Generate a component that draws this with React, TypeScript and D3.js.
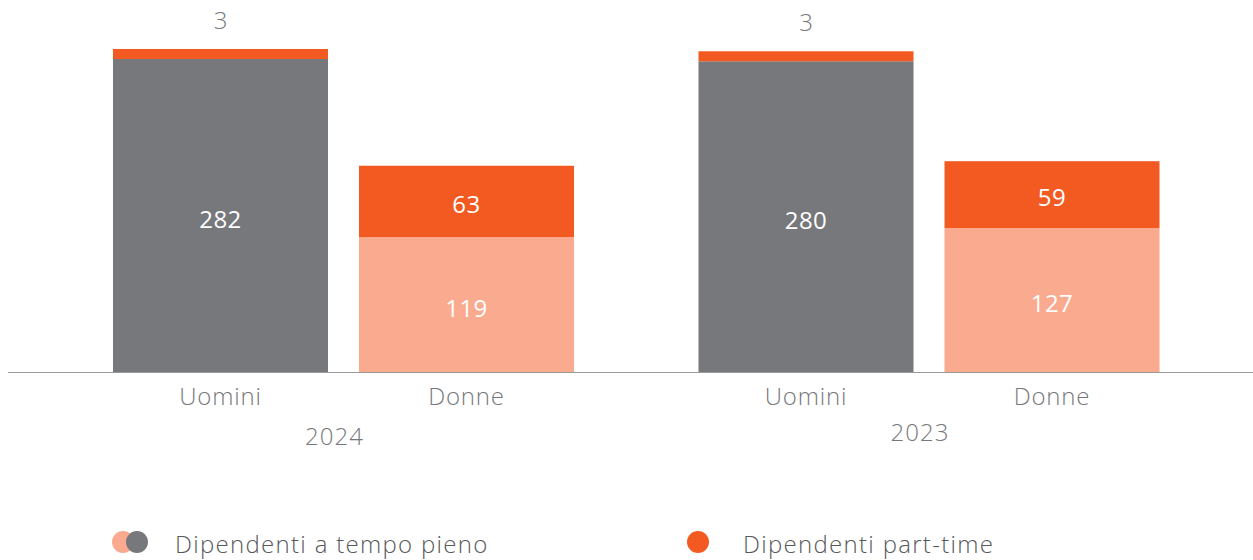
import React from "react";
import * as d3 from "d3";

const years = ["2024", "2023"];
const genders = ["Uomini", "Donne"];
const fullTime2024 = [282, 119];
const partTime2024 = [3, 63];
const fullTime2023 = [280, 127];
const partTime2023 = [3, 59];
const legendLabels = ["Dipendenti a tempo pieno", "Dipendenti part-time"];

const W = 1253;
const H = 560;
const baseY = 372;
const GRAY = "#77787C";
const ORANGE = "#F25A22";
const SALMON = "#F9AA8F";
const FONT = "'Open Sans', 'Noto Sans', sans-serif";

export default function App() {
  const data = [
    { year: years[0], full: fullTime2024, part: partTime2024, dy: 0 },
    { year: years[1], full: fullTime2023, part: partTime2023, dy: -4 },
  ];
  const x0 = d3.scaleBand<string>().domain(years).range([50.75, 1221.75]).paddingInner(0).paddingOuter(0);
  const x1 = d3
    .scaleBand<string>()
    .domain(genders)
    .range([0, x0.bandwidth()])
    .paddingInner(31 / 246)
    .paddingOuter(0.253);
  const maxTotal = d3.max(data, (d) => d3.max(d.full.map((f, i) => f + d.part[i]))) as number;
  const y = d3.scaleLinear().domain([0, maxTotal]).range([baseY, 49]);
  const minH = 10;

  return (
    <svg width={W} height={H} style={{ position: "absolute", left: 0, top: 0 }} fontFamily={FONT} fontWeight={300}>
      <line x1={8} x2={W} y1={baseY + 0.5} y2={baseY + 0.5} stroke="#9A9A9A" strokeWidth={1} />
      {data.map((d) => (
        <g key={d.year} transform={`translate(${x0(d.year)},0)`}>
          {genders.map((g, i) => {
            const bx = x1(g) as number;
            const bw = x1.bandwidth();
            const total = d.full[i] + d.part[i];
            const topY = y(total);
            const partH = Math.max(baseY - y(d.part[i]), minH);
            const splitY = topY + partH;
            const fullColor = i === 0 ? GRAY : SALMON;
            const small = baseY - y(d.part[i]) < 30;
            return (
              <g key={g}>
                <rect x={bx} y={splitY} width={bw} height={baseY - splitY} fill={fullColor} />
                <rect x={bx} y={topY} width={bw} height={partH} fill={ORANGE} />
                <text
                  x={bx + bw / 2}
                  y={(splitY + baseY) / 2 + 4}
                  dy="0.35em"
                  textAnchor="middle"
                  fill="#fff"
                  fontSize={24}
                  fontWeight={400}
                  letterSpacing={0.5}
                >
                  {d.full[i]}
                </text>
                {small ? (
                  <text x={bx + bw / 2} y={topY - 20} textAnchor="middle" fill={GRAY} fontSize={24}>
                    {d.part[i]}
                  </text>
                ) : (
                  <text
                    x={bx + bw / 2}
                    y={(topY + splitY) / 2 + 3}
                    dy="0.35em"
                    textAnchor="middle"
                    fill="#fff"
                    fontSize={24}
                    fontWeight={400}
                    letterSpacing={0.5}
                  >
                    {d.part[i]}
                  </text>
                )}
                <text x={bx + bw / 2} y={405} textAnchor="middle" fill={GRAY} fontSize={24} letterSpacing={0.8}>
                  {g}
                </text>
              </g>
            );
          })}
          <text
            x={x0.bandwidth() / 2 - 9}
            y={445 + d.dy}
            textAnchor="middle"
            fill={GRAY}
            fontSize={24}
            letterSpacing={1}
          >
            {d.year}
          </text>
        </g>
      ))}
      <g>
        <circle cx={123} cy={542} r={11} fill={SALMON} />
        <circle cx={137} cy={542} r={11} fill={GRAY} />
        <text x={175} y={553} fill="#58595B" fontSize={24} letterSpacing={1.3}>
          {legendLabels[0]}
        </text>
        <circle cx={698} cy={542} r={11} fill={ORANGE} />
        <text x={743} y={553} fill="#58595B" fontSize={24} letterSpacing={1.3}>
          {legendLabels[1]}
        </text>
      </g>
    </svg>
  );
}
